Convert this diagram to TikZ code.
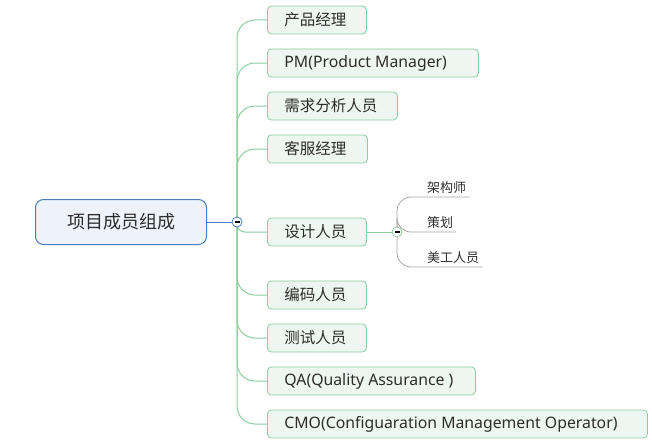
\documentclass[tikz,border=0pt]{standalone}
\usepackage{fontspec}
\setmainfont{Noto Sans}
\newfontfamily\cjk{Noto Sans CJK SC}
\usepackage{xcolor}
\definecolor{leafline}{RGB}{140,205,160}
\definecolor{leaffill}{RGB}{237,246,240}
\definecolor{rootline}{RGB}{75,125,185}
\definecolor{rootfill}{RGB}{238,243,250}
\definecolor{txt}{RGB}{45,45,45}
\definecolor{subline}{RGB}{165,165,165}
\newcommand{\lefttext}[2]{\makebox[#1][l]{#2}}

\begin{document}
\begin{tikzpicture}[x=1pt,y=-1pt,
    root/.style={draw=rootline, fill=rootfill, rounded corners=8pt, line width=1pt,
      minimum width=171pt, minimum height=45pt, text=txt, font=\cjk\fontsize{18}{20}\selectfont},
    leaf/.style={draw=leafline, fill=leaffill, rounded corners=4pt, line width=0.8pt,
      minimum height=28pt, inner xsep=17pt, inner ysep=0pt, anchor=west,
      text=txt, font=\fontsize{15.8}{18}\selectfont},
    cn/.style={font=\cjk\fontsize{15.5}{18}\selectfont},
    sub/.style={inner xsep=3pt, inner ysep=3pt, anchor=south west, text=txt,
      font=\cjk\fontsize{13}{15}\selectfont},
    hub/.style={circle, draw=#1, fill=white, inner sep=0pt, minimum size=10pt, line width=0.8pt},
    branch/.style={draw=leafline, line width=1pt, rounded corners=18pt},
    twig/.style={draw=subline, line width=0.8pt, rounded corners=14pt}]

    \useasboundingbox (0,0) rectangle (652,444);

    \node[root] (xmcy) at (121,222) {项目成员组成};

    \node[leaf,cn] (cpjl) at (267,20) {\lefttext{65pt}{产品经理}};
    \node[leaf] (pm) at (267,63) {\lefttext{177pt}{PM(Product Manager)}};
    \node[leaf,cn] (xqfx) at (267,106) {\lefttext{96pt}{需求分析人员}};
    \node[leaf,cn] (kfjl) at (267,149) {\lefttext{66pt}{客服经理}};
    \node[leaf,cn] (sjry) at (267,232) {\lefttext{65pt}{设计人员}};
    \node[leaf,cn] (bmry) at (267,295) {\lefttext{65pt}{编码人员}};
    \node[leaf,cn] (csry) at (267,338) {\lefttext{65pt}{测试人员}};
    \node[leaf] (qa) at (267,381) {\lefttext{174pt}{QA(Quality Assurance )}};
    \node[leaf] (cmo) at (267,424) {\lefttext{346pt}{CMO(Configuaration Management Operator)}};

    \node[sub] (jgs) at (424,197) {架构师};
    \node[sub] (ch) at (424,232) {策划};
    \node[sub] (mgry) at (424,267) {美工人员};

    \coordinate (h) at (237,222);
    \coordinate (sh) at (397,232);

    \draw[rootline, line width=1pt] (xmcy) -- (h);
    \foreach \n in {cpjl,pm,xqfx,kfjl,bmry,csry,qa,cmo}
      \draw[branch] (h) |- (\n.west);
    \draw[branch, rounded corners=8pt] (h) |- (sjry.west);
    \draw[branch] (sjry) -- (sh);
    \foreach \n in {jgs,ch,mgry}
      \draw[twig] (sh) |- (\n.south east);

    \node[hub=rootline] (hub) at (h) {\rule{5pt}{1.3pt}};
    \node[hub=leafline] (shub) at (sh) {\rule{5pt}{1.3pt}};
  \end{tikzpicture}
\end{document}
